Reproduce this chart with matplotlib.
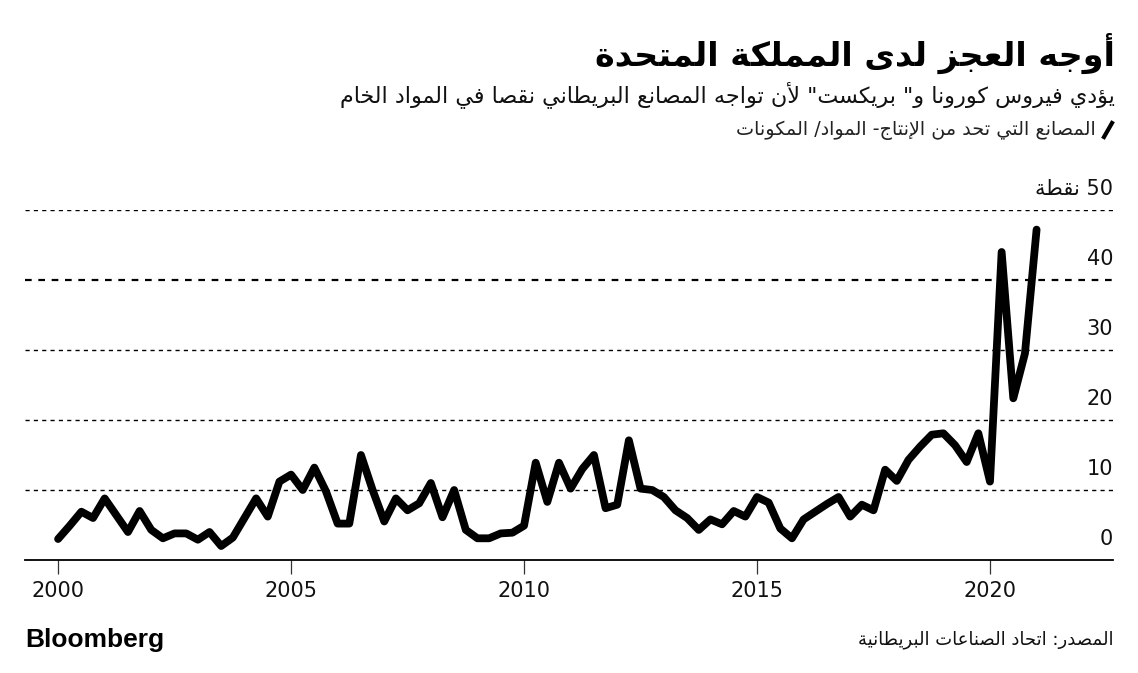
import matplotlib
matplotlib.use("Agg")
import matplotlib.pyplot as plt
from matplotlib.lines import Line2D

# quarterly readings, 2000 Q1 .. 2021 Q1 (% of firms citing materials shortages)
start_year = 2000
values = [
    3.0, 4.9, 6.9, 6.0, 8.8, 6.4, 4.0, 7.0, 4.3, 3.1, 3.8, 3.8,
    2.9, 4.0, 2.0, 3.2, 6.0, 8.8, 6.2, 11.2, 12.2, 10.0, 13.2, 9.8,
    5.2, 5.2, 15.0, 10.0, 5.5, 8.8, 7.1, 8.1, 11.0, 6.1, 10.0, 4.3,
    3.1, 3.1, 3.8, 3.9, 4.9, 13.9, 8.3, 13.9, 10.2, 13.0, 15.0, 7.4,
    7.9, 17.1, 10.2, 10.0, 9.0, 7.1, 6.0, 4.3, 5.8, 5.1, 7.0, 6.2,
    9.0, 8.2, 4.5, 3.1, 5.8, 6.9, 8.0, 9.0, 6.2, 7.9, 7.1, 12.9,
    11.3, 14.3, 16.2, 17.9, 18.1, 16.4, 14.0, 18.1, 11.2, 44.0, 23.1, 29.5,
    47.2,
]
x_ticks = [2000, 2005, 2010, 2015, 2020]
y_ticks = [0, 10, 20, 30, 40, 50]

title = "أوجه العجز لدى المملكة المتحدة"
subtitle = 'يؤدي فيروس كورونا و" بريكست" لأن تواجه المصانع البريطاني نقصا في المواد الخام'
legend_label = "المصانع التي تحد من الإنتاج- المواد/ المكونات"
unit_word = "نقطة"
source = "المصدر: اتحاد الصناعات البريطانية"

# --- minimal arabic shaping (matplotlib has no bidi / joining support) ---
AR_FORMS = {
    'ء': (0xFE80, 1), 'آ': (0xFE81, 2), 'أ': (0xFE83, 2), 'ؤ': (0xFE85, 2),
    'إ': (0xFE87, 2), 'ئ': (0xFE89, 4), 'ا': (0xFE8D, 2), 'ب': (0xFE8F, 4),
    'ة': (0xFE93, 2), 'ت': (0xFE95, 4), 'ث': (0xFE99, 4), 'ج': (0xFE9D, 4),
    'ح': (0xFEA1, 4), 'خ': (0xFEA5, 4), 'د': (0xFEA9, 2), 'ذ': (0xFEAB, 2),
    'ر': (0xFEAD, 2), 'ز': (0xFEAF, 2), 'س': (0xFEB1, 4), 'ش': (0xFEB5, 4),
    'ص': (0xFEB9, 4), 'ض': (0xFEBD, 4), 'ط': (0xFEC1, 4), 'ظ': (0xFEC5, 4),
    'ع': (0xFEC9, 4), 'غ': (0xFECD, 4), 'ف': (0xFED1, 4), 'ق': (0xFED5, 4),
    'ك': (0xFED9, 4), 'ل': (0xFEDD, 4), 'م': (0xFEE1, 4), 'ن': (0xFEE5, 4),
    'ه': (0xFEE9, 4), 'و': (0xFEED, 2), 'ى': (0xFEEF, 2), 'ي': (0xFEF1, 4),
}
LAM_ALEF = {'آ': 0xFEF5, 'أ': 0xFEF7, 'إ': 0xFEF9, 'ا': 0xFEFB}


def shape(text):
    tokens = []
    i = 0
    while i < len(text):
        c = text[i]
        if c == 'ل' and i + 1 < len(text) and text[i + 1] in LAM_ALEF:
            tokens.append((LAM_ALEF[text[i + 1]], 2))
            i += 2
            continue
        if c in AR_FORMS:
            tokens.append(AR_FORMS[c])
        else:
            tokens.append(c)
        i += 1

    out = []
    for j, t in enumerate(tokens):
        if isinstance(t, str):
            out.append(t)
            continue
        base, nforms = t
        prev = tokens[j - 1] if j > 0 else None
        nxt = tokens[j + 1] if j + 1 < len(tokens) else None
        join_prev = nforms > 1 and isinstance(prev, tuple) and prev[1] == 4
        join_next = nforms == 4 and isinstance(nxt, tuple) and nxt[1] > 1
        if join_prev and join_next:
            form = 3
        elif join_prev:
            form = 1
        elif join_next:
            form = 2
        else:
            form = 0
        out.append(chr(base + form))
    return ''.join(reversed(out))


plt.rcParams['font.family'] = ['DejaVu Sans']

W, H = 1138, 673
fig = plt.figure(figsize=(W / 100, H / 100), dpi=100)
fig.patch.set_facecolor("white")


def fx(px):
    return px / W


def fy(py):
    return 1 - py / H


ax = fig.add_axes([fx(25), fy(560), fx(1113) - fx(25), (560 - 210) / H])

xs = [start_year + k * 0.25 for k in range(len(values))]
ax.plot(xs, values, color="black", lw=5.6, solid_joinstyle="round",
        solid_capstyle="round", clip_on=False, zorder=3)

ax.set_xlim(1999.29, 2022.64)
ax.set_ylim(0, 50)

for v in y_ticks[1:]:
    ax.axhline(v, color="black", lw=1.6 if v == 40 else 1.0,
               dashes=(3, 3), zorder=1)

for v in y_ticks:
    label = str(v)
    if v == 50:
        label = shape(unit_word) + " 50"
    ax.annotate(label, xy=(1.0, v), xycoords=ax.get_yaxis_transform(),
                xytext=(0, 11), textcoords="offset points",
                ha="right", va="baseline", fontsize=15, color="#111111")

ax.set_yticks([])
ax.set_xticks(x_ticks)
ax.set_xticklabels([str(t) for t in x_ticks], fontsize=15, color="#111111")
ax.tick_params(axis="x", direction="out", length=10, width=0.9,
               color="#333333", pad=5)

for s in ["left", "right", "top"]:
    ax.spines[s].set_visible(False)
ax.spines["bottom"].set_linewidth(1.3)
ax.spines["bottom"].set_color("black")

# header
fig.text(fx(1115), fy(53), shape(title), ha="right", va="center",
         fontsize=24, fontweight="bold", color="black")
fig.text(fx(1115), fy(95), shape(subtitle), ha="right", va="center",
         fontsize=16, color="#111111")
fig.text(fx(1096), fy(130), shape(legend_label), ha="right", va="center",
         fontsize=13.8, color="#222222")
fig.add_artist(Line2D([fx(1104), fx(1112)], [fy(137), fy(123)],
                      transform=fig.transFigure, color="black", lw=3))

# footer
fig.text(fx(25), fy(640), "Bloomberg", ha="left", va="center",
         fontsize=19, fontweight="bold", family="Liberation Sans", color="black")
fig.text(fx(1113), fy(640), shape(source), ha="right", va="center",
         fontsize=13, color="#111111")

fig.savefig("out.png", dpi=100, facecolor="white")
